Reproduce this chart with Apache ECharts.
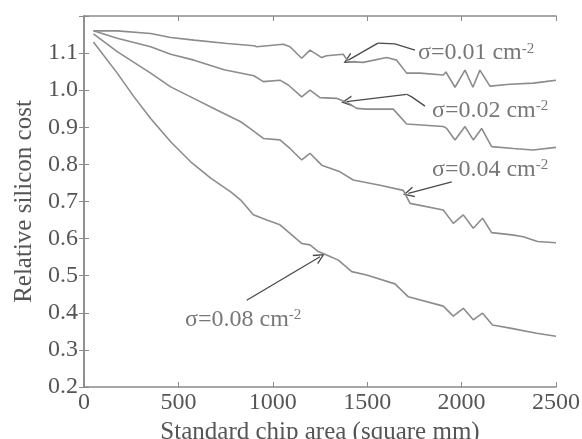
<!DOCTYPE html>
<html>
<head>
<meta charset="utf-8">
<script src="https://cdn.jsdelivr.net/npm/echarts@6/dist/echarts.min.js"></script>
<style>
  html, body { margin: 0; padding: 0; background: #fff; }
  #chart { width: 582px; height: 439px; }
</style>
</head>
<body>
<div id="chart"></div>
<script>
// values
const xTicks = [0, 500, 1000, 1500, 2000, 2500];
const yTicks = [0.2, 0.3, 0.4, 0.5, 0.6, 0.7, 0.8, 0.9, 1.0, 1.1];

const sigma001 = [
  [50, 1.16], [176, 1.16], [353, 1.153], [459, 1.142], [583, 1.135], [759, 1.126],
  [900, 1.12], [915, 1.117], [1056, 1.124], [1091, 1.117], [1153, 1.086], [1197, 1.108],
  [1259, 1.088], [1285, 1.093], [1373, 1.097], [1400, 1.077], [1479, 1.075], [1603, 1.088],
  [1656, 1.081], [1709, 1.046], [1780, 1.046], [1903, 1.041], [1917, 1.049], [1965, 1.008],
  [2018, 1.054], [2060, 1.008], [2097, 1.054], [2150, 1.011], [2256, 1.016], [2380, 1.019],
  [2442, 1.023], [2500, 1.027]
];
const sigma002 = [
  [50, 1.16], [176, 1.14], [353, 1.117], [459, 1.097], [583, 1.081], [742, 1.055],
  [900, 1.039], [950, 1.023], [1038, 1.027], [1082, 1.014], [1153, 0.982], [1197, 1.0],
  [1250, 0.98], [1338, 0.978], [1400, 0.965], [1444, 0.951], [1497, 0.949], [1638, 0.949],
  [1709, 0.909], [1903, 0.902], [1921, 0.897], [1965, 0.866], [2018, 0.902], [2062, 0.866],
  [2106, 0.897], [2159, 0.848], [2274, 0.843], [2378, 0.839], [2500, 0.846]
];
const sigma004 = [
  [50, 1.152], [176, 1.104], [353, 1.046], [459, 1.009], [565, 0.982], [706, 0.946],
  [830, 0.915], [879, 0.897], [950, 0.87], [1038, 0.866], [1091, 0.843], [1153, 0.812],
  [1197, 0.83], [1259, 0.798], [1356, 0.78], [1426, 0.758], [1568, 0.744], [1691, 0.73],
  [1727, 0.695], [1903, 0.677], [1956, 0.641], [2009, 0.664], [2062, 0.628], [2111, 0.655],
  [2159, 0.616], [2267, 0.61], [2327, 0.605], [2402, 0.592], [2500, 0.589]
];
const sigma008 = [
  [50, 1.13], [176, 1.046], [265, 0.982], [353, 0.924], [459, 0.861], [565, 0.807],
  [671, 0.763], [777, 0.726], [830, 0.704], [897, 0.664], [968, 0.65], [1038, 0.637],
  [1091, 0.614], [1153, 0.587], [1197, 0.583], [1241, 0.565], [1285, 0.556], [1347, 0.542],
  [1418, 0.511], [1497, 0.502], [1647, 0.478], [1718, 0.443], [1903, 0.418], [1956, 0.391],
  [2009, 0.412], [2062, 0.381], [2111, 0.399], [2164, 0.367], [2264, 0.358], [2397, 0.345],
  [2500, 0.337]
];

const curveNames = ['0.01', '0.02', '0.04', '0.08'];
// where each label text starts, in data units
const labelAt = [[1769, 1.1], [1843, 0.944], [1843, 0.787], [535, 0.381]];
// bent part of the leaders (no arrowhead)
const leaderBends = [
  [[1753, 1.108], [1647, 1.125], [1557, 1.127]],
  [[1806, 0.957], [1736, 0.982], [1709, 0.989]]
];
// straight last segment of every leader, ending in the arrowhead
const arrowSegments = [
  [[1557, 1.127], [1400, 1.081]],
  [[1709, 0.989], [1391, 0.969]],
  [[1948, 0.753], [1718, 0.722]],
  [[862, 0.434], [1250, 0.551]]
];

const serif = '"Liberation Serif", "Times New Roman", serif';
const lineColor = '#8c8c8c';
const textColor = '#555';
const frameColor = '#8a8a8a';
const leaderColor = '#4a4a4a';
const openArrow = 'path://M5,0 L10,12 L8.6,12 L5,3.2 L1.4,12 L0,12 Z';

const curves = [sigma001, sigma002, sigma004, sigma008].map((d, i) => ({
  name: curveNames[i],
  type: 'line',
  data: d,
  symbol: 'none',
  silent: true,
  lineStyle: { color: lineColor, width: 1.6 }
}));

const chart = echarts.init(document.getElementById('chart'));

const baseX = {
  type: 'value', min: 0, max: 2500, interval: 500,
  axisLine: { show: true, lineStyle: { color: frameColor, width: 1.5 } },
  axisTick: { show: true, inside: true, length: 5, lineStyle: { color: frameColor } },
  splitLine: { show: false }
};
const baseY = {
  type: 'value', min: 0.2, max: 1.2, interval: 0.1,
  axisLine: { show: true, lineStyle: { color: frameColor, width: 1.5 } },
  axisTick: { show: true, inside: true, length: 5, lineStyle: { color: frameColor } },
  splitLine: { show: false }
};

chart.setOption({
  backgroundColor: '#fff',
  animation: false,
  grid: { left: 84, right: 26, top: 16, bottom: 52, outerBoundsMode: 'none', containLabel: false },
  xAxis: [
    Object.assign({}, baseX, {
      position: 'bottom',
      name: 'Standard chip area (square mm)',
      nameLocation: 'middle',
      nameGap: 28,
      nameTextStyle: { fontFamily: serif, fontSize: 25, color: textColor },
      axisLabel: {
        fontFamily: serif, fontSize: 24, color: textColor, margin: 4,
        formatter: v => xTicks.includes(Math.round(v)) ? String(Math.round(v)) : ''
      }
    }),
    Object.assign({}, baseX, { position: 'top', axisLabel: { show: false } })
  ],
  yAxis: [
    Object.assign({}, baseY, {
      position: 'left',
      name: 'Relative silicon cost',
      nameLocation: 'middle',
      nameGap: 47,
      nameTextStyle: { fontFamily: serif, fontSize: 25, color: textColor },
      axisLabel: {
        fontFamily: serif, fontSize: 24, color: textColor, margin: 6,
        formatter: v => {
          const t = yTicks.find(k => Math.abs(k - v) < 1e-6);
          return t === undefined ? '' : t.toFixed(1);
        }
      }
    }),
    Object.assign({}, baseY, { position: 'right', axisLabel: { show: false } })
  ],
  series: curves.concat([
    {
      type: 'lines',
      coordinateSystem: 'cartesian2d',
      polyline: true,
      silent: true,
      lineStyle: { color: leaderColor, width: 1.3, opacity: 1 },
      data: leaderBends.map(c => ({ coords: c }))
    },
    {
      type: 'lines',
      coordinateSystem: 'cartesian2d',
      silent: true,
      symbol: ['none', openArrow],
      symbolSize: [9, 11],
      itemStyle: { color: leaderColor },
      lineStyle: { color: leaderColor, width: 1.3, opacity: 1 },
      data: arrowSegments.map(c => ({ coords: c }))
    },
    {
      type: 'scatter',
      silent: true,
      symbolSize: 0,
      data: labelAt.map((p, i) => ({ value: p, name: curveNames[i] })),
      label: {
        show: true,
        position: [0, 0],
        align: 'left',
        verticalAlign: 'middle',
        formatter: p => '{main|σ=' + p.name + ' cm}{sup|-2}',
        rich: {
          main: { fontFamily: serif, fontSize: 24, color: textColor },
          sup: { fontFamily: serif, fontSize: 15, color: textColor, verticalAlign: 'top' }
        }
      }
    }
  ])
});
</script>
</body>
</html>
